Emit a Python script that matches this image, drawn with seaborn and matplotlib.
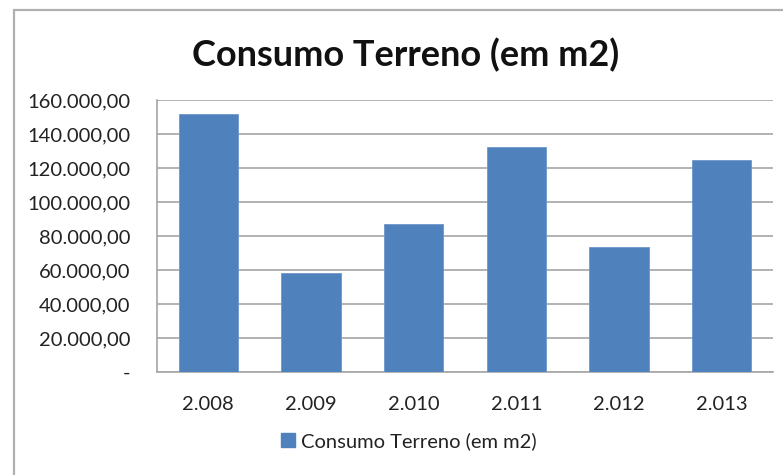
import matplotlib
matplotlib.use("Agg")
import matplotlib.pyplot as plt
import matplotlib.patches as mpatches
import seaborn as sns
import pandas as pd

anos = ["2.008", "2.009", "2.010", "2.011", "2.012", "2.013"]
consumo = [151500, 58500, 87000, 132500, 73500, 124500]
yticks = [0, 20000, 40000, 60000, 80000, 100000, 120000, 140000, 160000]
serie = "Consumo Terreno (em m2)"

df = pd.DataFrame({"ano": anos, "consumo": consumo})

sns.set_theme(style="white")
plt.rcParams["font.family"] = ["Lato", "DejaVu Sans"]

W, H = 783, 475
fig = plt.figure(figsize=(W / 100, H / 100), dpi=100)
ax = fig.add_axes([157 / W, 1 - 372 / H, (773 - 157) / W, (372 - 100) / H])

bar_color = "#4F81BD"
sns.barplot(data=df, x="ano", y="consumo", color=bar_color, width=0.575,
            saturation=1, ax=ax, edgecolor="#6d97cc", linewidth=0.6, zorder=3)

ax.set_ylim(0, 160000)
ax.set_yticks(yticks)


def fmt_br(v):
    if v == 0:
        return "-"
    s = f"{v:,.2f}"
    return s.replace(",", "X").replace(".", ",").replace("X", ".")


ax.set_yticklabels([fmt_br(v) for v in yticks], fontsize=14.5, color="#222222")
ax.set_xticklabels(anos, fontsize=14.5, color="#222222")
ax.tick_params(axis="y", pad=19, length=0)
ax.tick_params(axis="x", pad=17, length=0)
ax.set_xlabel("")
ax.set_ylabel("")

ax.yaxis.grid(True, color="#a6a6a6", linewidth=1.2, zorder=0)
ax.set_axisbelow(True)
for side in ["top", "right"]:
    ax.spines[side].set_visible(False)
for side in ["left", "bottom"]:
    ax.spines[side].set_color("#a6a6a6")
    ax.spines[side].set_linewidth(1.2)

fig.text(406 / W, 1 - 55 / H, serie, ha="center", va="center",
         fontsize=26, fontweight="bold", color="#111111")

handle = mpatches.Patch(color=bar_color, label=serie)
fig.legend(handles=[handle], loc="center", bbox_to_anchor=(409 / W, 1 - 441 / H),
           frameon=False, fontsize=14.5, handlelength=0.7, handleheight=0.7,
           handletextpad=0.3, labelcolor="#222222")

# outer chart frame
frame = mpatches.Rectangle((14 / W, -0.1), 1.2, 1 - 10 / H + 0.1,
                           transform=fig.transFigure, fill=False,
                           edgecolor="#b0b0b0", linewidth=1.6)
fig.add_artist(frame)

fig.savefig("out.png", dpi=100)
